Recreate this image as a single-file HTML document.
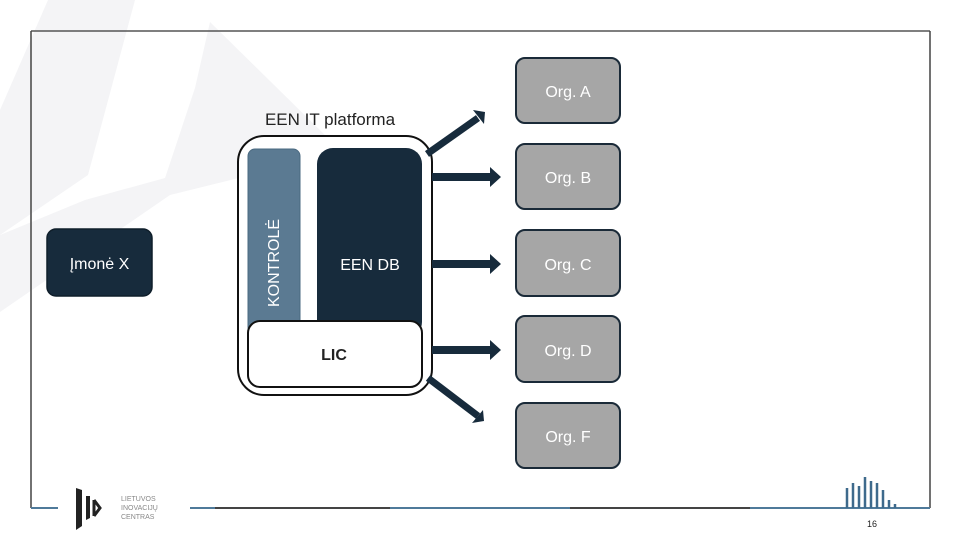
<!DOCTYPE html>
<html><head><meta charset="utf-8"><style>
body{margin:0;width:960px;height:540px;overflow:hidden;background:#fff;font-family:"Liberation Sans",sans-serif;}
</style></head><body>
<svg width="960" height="540" viewBox="0 0 960 540" xmlns="http://www.w3.org/2000/svg" font-family="Liberation Sans, sans-serif">
<polygon points="48,0 135,0 88,175 0,235 0,110" fill="#f4f4f6"/>
<polygon points="210,22 330,140 320,158 170,195 0,312 0,235 85,200 165,178 195,88" fill="#f4f4f6"/>
<line x1="31" y1="31" x2="930" y2="31" stroke="#555" stroke-width="1.5"/>
<line x1="31" y1="31" x2="31" y2="508" stroke="#444" stroke-width="1.5"/>
<line x1="930" y1="31" x2="930" y2="508" stroke="#444" stroke-width="1.5"/>
<line x1="31" y1="508" x2="58" y2="508" stroke="#4f7a9a" stroke-width="2"/>
<line x1="190" y1="508" x2="215" y2="508" stroke="#4f7a9a" stroke-width="2"/>
<line x1="215" y1="508" x2="390" y2="508" stroke="#444" stroke-width="2"/>
<line x1="390" y1="508" x2="570" y2="508" stroke="#4f7a9a" stroke-width="2"/>
<line x1="570" y1="508" x2="750" y2="508" stroke="#444" stroke-width="2"/>
<line x1="750" y1="508" x2="930" y2="508" stroke="#4f7a9a" stroke-width="2"/>
<path d="M76,488 L76,530 L82,526 L82,490" fill="#222"/>
<path d="M86,496 L86,520 L90,518 L90,496Z" fill="#222"/>
<path d="M94,500 L94,516 M94,500 L100,508 L94,516" stroke="#222" stroke-width="3" fill="none"/>
<text x="121" y="501" font-size="7" fill="#888">LIETUVOS</text>
<text x="121" y="510" font-size="7" fill="#888">INOVACIJŲ</text>
<text x="121" y="519" font-size="7" fill="#888">CENTRAS</text>
<g stroke="#3e6a8c" stroke-width="2.5">
<line x1="847" y1="508" x2="847" y2="488"/><line x1="853" y1="508" x2="853" y2="483"/><line x1="859" y1="508" x2="859" y2="486"/><line x1="865" y1="508" x2="865" y2="477"/><line x1="871" y1="508" x2="871" y2="481"/><line x1="877" y1="508" x2="877" y2="483"/><line x1="883" y1="508" x2="883" y2="490"/><line x1="889" y1="508" x2="889" y2="500"/><line x1="895" y1="508" x2="895" y2="504"/>
</g>
<text x="872" y="527" font-size="9" fill="#222" text-anchor="middle">16</text>
<rect x="47" y="229" width="105" height="67" rx="9" fill="#172b3c" stroke="#0f1e2a" stroke-width="1.5"/>
<text x="99.5" y="269" font-size="16" fill="#fff" text-anchor="middle">Įmonė X</text>
<text x="330" y="125" font-size="17" fill="#222" text-anchor="middle">EEN IT platforma</text>
<rect x="238" y="136" width="194" height="259" rx="26" fill="#fff" stroke="#111" stroke-width="2"/>
<rect x="248" y="149" width="52" height="185" rx="7" fill="#5b7a92" stroke="#4a6980"/>
<text transform="translate(279,263) rotate(-90)" font-size="16" fill="#fff" text-anchor="middle">KONTROLĖ</text>
<rect x="317" y="148" width="105" height="190" rx="16" fill="#172b3c"/>
<text x="370" y="270" font-size="16" fill="#fff" text-anchor="middle">EEN DB</text>
<rect x="248" y="321" width="174" height="66" rx="12" fill="#fff" stroke="#111" stroke-width="2"/>
<text x="334" y="360" font-size="16" font-weight="bold" fill="#222" text-anchor="middle">LIC</text>
<g fill="#172b3c">
<path d="M432,173 L490,173 L490,167 L501,177 L490,187 L490,181 L432,181Z"/>
<path d="M432,260 L490,260 L490,254 L501,264 L490,274 L490,268 L432,268Z"/>
<path d="M432,346 L490,346 L490,340 L501,350 L490,360 L490,354 L432,354Z"/>
</g>
<line x1="427" y1="154" x2="478" y2="118" stroke="#172b3c" stroke-width="7"/>
<polygon points="473,110 485,112 484,124" fill="#172b3c"/>
<line x1="428" y1="378" x2="478" y2="416" stroke="#172b3c" stroke-width="7"/>
<polygon points="472,423 484,421 483,410" fill="#172b3c"/>
<g fill="#a6a6a6" stroke="#1a2a38" stroke-width="2">
<rect x="516" y="58" width="104" height="65" rx="9"/>
<rect x="516" y="144" width="104" height="65" rx="9"/>
<rect x="516" y="230" width="104" height="66" rx="9"/>
<rect x="516" y="316" width="104" height="66" rx="9"/>
<rect x="516" y="403" width="104" height="65" rx="9"/>
</g>
<g font-size="16" fill="#fff" text-anchor="middle">
<text x="568" y="97">Org. A</text>
<text x="568" y="183">Org. B</text>
<text x="568" y="270">Org. C</text>
<text x="568" y="356">Org. D</text>
<text x="568" y="442">Org. F</text>
</g>
</svg>
</body></html>
